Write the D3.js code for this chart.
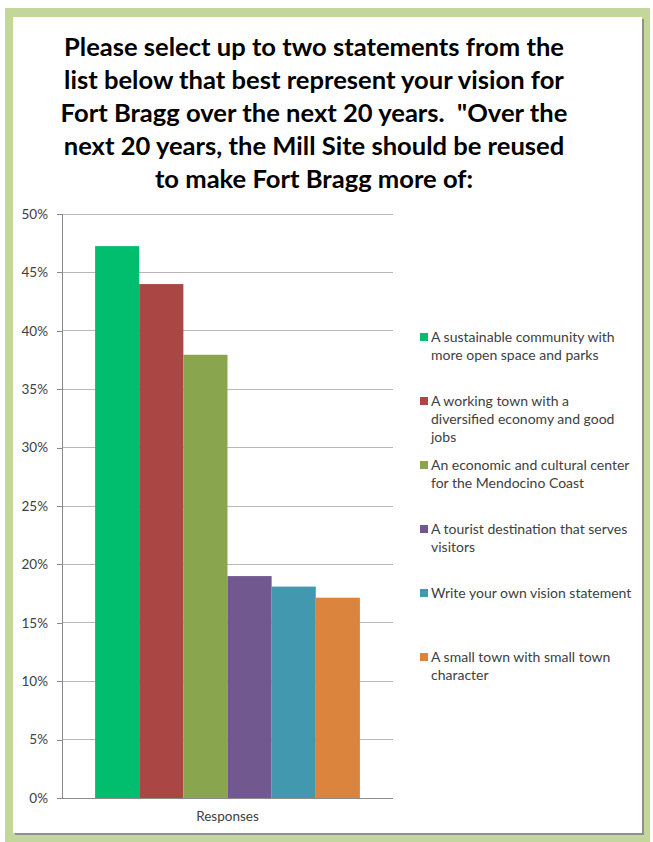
<!DOCTYPE html>
<html>
<head>
<meta charset="utf-8">
<script src="https://cdn.jsdelivr.net/npm/d3@7"></script>
<style>
  html, body { margin: 0; padding: 0; background: #ffffff; }
  svg { display: block; }
  text { white-space: pre; }
</style>
</head>
<body>
<svg id="chart" width="653" height="842"></svg>
<script>
// ---- data ----
const titleLines = [
  "Please select up to two statements from the",
  "list below that best represent your vision for",
  "Fort Bragg over the next 20 years.  \"Over the",
  "next 20 years, the Mill Site should be reused",
  "to make Fort Bragg more of:"
];
const categories = ["Responses"];
const seriesNames = [
  "A sustainable community with more open space and parks",
  "A working town with a diversified economy and good jobs",
  "An economic and cultural center for the Mendocino Coast",
  "A tourist destination that serves visitors",
  "Write your own vision statement",
  "A small town with small town character"
];
const legendLines = [
  ["A sustainable community with", "more open space and parks"],
  ["A working town with a", "diversified economy and good", "jobs"],
  ["An economic and cultural center", "for the Mendocino Coast"],
  ["A tourist destination that serves", "visitors"],
  ["Write your own vision statement"],
  ["A small town with small town", "character"]
];
const seriesValues = [0.4725, 0.440, 0.3795, 0.190, 0.181, 0.1715];
const seriesColors = ["#00BE6E", "#AA4643", "#89A54E", "#71588F", "#4198AF", "#DB843D"];
const yTickValues = [0, 0.05, 0.10, 0.15, 0.20, 0.25, 0.30, 0.35, 0.40, 0.45, 0.50];
const yTickLabels = ["0%", "5%", "10%", "15%", "20%", "25%", "30%", "35%", "40%", "45%", "50%"];

// ---- drawing ----
const svg = d3.select("#chart");
const FONT = "Lato, 'Open Sans', 'DejaVu Sans', sans-serif";

// frame
svg.append("rect").attr("x", 5).attr("y", 8).attr("width", 645).attr("height", 834).attr("fill", "#C4D79B");
svg.append("rect").attr("x", 15).attr("y", 19).attr("width", 629).attr("height", 816).attr("fill", "#8f8f8f");
svg.append("rect").attr("x", 13).attr("y", 17).attr("width", 629).attr("height", 816).attr("fill", "#ffffff");

// title (Calibri-like: taller glyphs, compressed to the reference line widths)
const title = svg.append("g");
const titleTexts = titleLines.map((t, i) => title.append("text")
    .attr("x", 314)
    .attr("y", 56 + i * 33)
    .attr("text-anchor", "middle")
    .attr("font-family", FONT)
    .attr("font-weight", "bold")
    .attr("font-size", 24)
    .attr("fill", "#000")
    .text(t));
const natural = titleTexts.map(s => s.node().getComputedTextLength());
const fitScale = 500 / natural[0];
titleTexts.forEach((s, i) => {
  s.attr("textLength", natural[i] * fitScale).attr("lengthAdjust", "spacingAndGlyphs");
});

// scales
const plotLeft = 62, plotRight = 393, plotTop = 214, plotBottom = 798;
const y = d3.scaleLinear().domain([0, 0.5]).range([plotBottom, plotTop]);
const x0 = d3.scaleBand().domain(categories).range([plotLeft, plotRight]).padding(0);
const x1 = d3.scaleBand().domain(seriesNames).range([0, x0.bandwidth()]).paddingInner(0).paddingOuter(0.75);

// gridlines
svg.append("g").selectAll("line")
  .data(yTickValues.filter(v => v > 0))
  .join("line")
  .attr("x1", plotLeft).attr("x2", plotRight)
  .attr("y1", d => y(d)).attr("y2", d => y(d))
  .attr("stroke", "#b8b8b8").attr("stroke-width", 1).attr("shape-rendering", "crispEdges");

// bars
const barG = svg.append("g");
categories.forEach(cat => {
  barG.selectAll("rect.bar")
    .data(seriesValues.map((v, i) => ({ name: seriesNames[i], v, c: seriesColors[i] })))
    .join("rect")
    .attr("class", "bar")
    .attr("x", d => x0(cat) + x1(d.name))
    .attr("width", x1.bandwidth())
    .attr("y", d => y(d.v))
    .attr("height", d => y(0) - y(d.v))
    .attr("fill", d => d.c);
});

// y axis
const yAxis = d3.axisLeft(y)
  .tickValues(yTickValues)
  .tickFormat((d, i) => yTickLabels[i])
  .tickSize(5)
  .tickPadding(9);
const ya = svg.append("g").attr("transform", `translate(${plotLeft},0)`).call(yAxis);
ya.select(".domain").attr("stroke", "#8a8a8a").attr("d", `M-5,${plotTop}H0V${plotBottom}H-5`);
ya.selectAll(".tick line").attr("stroke", "#8a8a8a");
ya.selectAll(".tick text")
  .attr("font-family", FONT).attr("font-size", 13.5).attr("fill", "#404040");
ya.selectAll("path, line").attr("shape-rendering", "crispEdges");

// x axis
const xAxis = d3.axisBottom(x0).tickSize(0).tickPadding(13);
const xa = svg.append("g").attr("transform", `translate(0,${plotBottom})`).call(xAxis);
xa.select(".domain").attr("stroke", "#8a8a8a").attr("d", `M${plotLeft},0.5H${plotRight}`).attr("shape-rendering", "crispEdges");
xa.selectAll(".tick text").attr("font-family", FONT).attr("font-size", 13.5).attr("fill", "#404040");

// legend
const leg = svg.append("g");
legendLines.forEach((lines, i) => {
  const yy = 337 + i * 64;
  leg.append("rect")
    .attr("x", 420).attr("y", yy - 4).attr("width", 8).attr("height", 8)
    .attr("fill", seriesColors[i]);
  lines.forEach((ln, j) => {
    leg.append("text")
      .attr("x", 431)
      .attr("y", yy + j * 18)
      .attr("dy", "0.35em")
      .attr("font-family", FONT)
      .attr("font-size", 14)
      .attr("fill", "#404040")
      .text(ln);
  });
});
</script>
</body>
</html>
